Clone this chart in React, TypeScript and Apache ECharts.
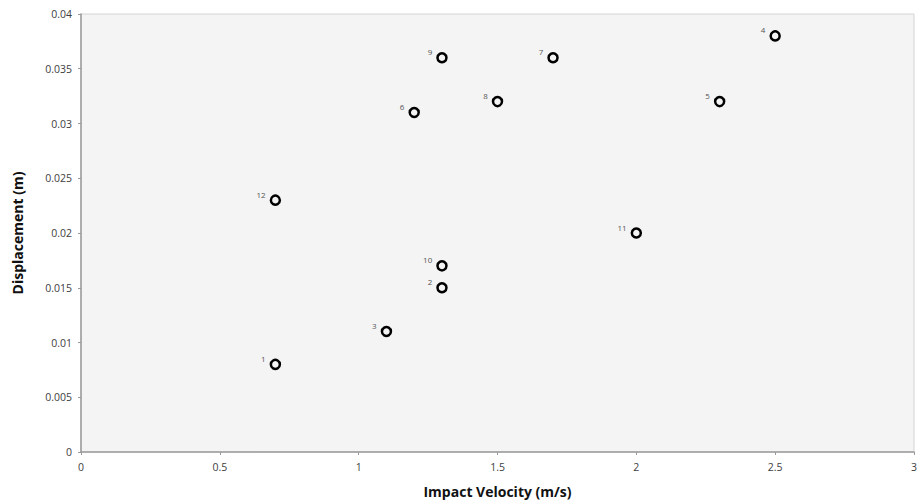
import React, { useEffect, useRef } from "react";
import * as echarts from "echarts";

const pointIds = ["1", "2", "3", "4", "5", "6", "7", "8", "9", "10", "11", "12"];
const velocities = [0.7, 1.3, 1.1, 2.5, 2.3, 1.2, 1.7, 1.5, 1.3, 1.3, 2.0, 0.7];
const displacements = [0.008, 0.015, 0.011, 0.038, 0.032, 0.031, 0.036, 0.032, 0.036, 0.017, 0.02, 0.023];
const xTicks = [0, 0.5, 1, 1.5, 2, 2.5, 3];
const yTicks = [0, 0.005, 0.01, 0.015, 0.02, 0.025, 0.03, 0.035, 0.04];

export default function App() {
  const ref = useRef<HTMLDivElement>(null);
  useEffect(() => {
    if (!ref.current) return;
    const chart = echarts.init(ref.current, undefined, { renderer: "svg" });
    const data = pointIds.map((id, i) => ({ name: id, value: [velocities[i], displacements[i]] }));
    chart.setOption({
      animation: false,
      backgroundColor: "#ffffff",
      grid: {
        left: 81,
        top: 14,
        right: 6,
        bottom: 52,
        containLabel: false,
        outerBoundsMode: "none",
        show: true,
        backgroundColor: "#f4f4f4",
        borderColor: "#d4d4d4",
        borderWidth: 1,
      },
      xAxis: {
        type: "value",
        min: xTicks[0],
        max: xTicks[xTicks.length - 1],
        interval: 0.5,
        name: "Impact Velocity (m/s)",
        nameLocation: "middle",
        nameGap: 32,
        nameTextStyle: { fontFamily: "'Open Sans', sans-serif", fontWeight: "bold", fontSize: 14, color: "#111" },
        axisLine: { show: true, onZero: false, lineStyle: { color: "#9a9a9a", width: 1.5 } },
        axisTick: { show: true, length: 3, lineStyle: { color: "#9a9a9a" } },
        axisLabel: {
          fontFamily: "'Open Sans', sans-serif",
          fontSize: 10.5,
          color: "#404040",
          margin: 9,
          formatter: (v: number) => String(v),
        },
        splitLine: { show: false },
      },
      yAxis: {
        type: "value",
        min: yTicks[0],
        max: yTicks[yTicks.length - 1],
        interval: 0.005,
        name: "Displacement (m)",
        nameLocation: "middle",
        nameGap: 57,
        nameTextStyle: {
          fontFamily: "'Liberation Sans Narrow', 'Open Sans', sans-serif",
          fontWeight: "bold",
          fontSize: 14,
          color: "#111",
        },
        axisLine: { show: true, onZero: false, lineStyle: { color: "#9a9a9a", width: 1.5 } },
        axisTick: { show: true, inside: false, length: 3, lineStyle: { color: "#9a9a9a" } },
        axisLabel: {
          fontFamily: "'Open Sans', sans-serif",
          fontSize: 10.5,
          color: "#404040",
          margin: 9,
          formatter: (v: number) => String(parseFloat(v.toFixed(4))),
        },
        splitLine: { show: false },
      },
      series: [
        {
          type: "scatter",
          data,
          symbol: "circle",
          symbolSize: 9,
          itemStyle: { color: "#f4f4f4", borderColor: "#000", borderWidth: 2.5, opacity: 1 },
          label: {
            show: true,
            position: "left",
            distance: 4,
            offset: [0, -6],
            formatter: (p: any) => p.name,
            fontFamily: "'Open Sans', sans-serif",
            fontSize: 8,
            color: "#555555",
            textBorderWidth: 0,
          },
        },
      ],
    });
    return () => chart.dispose();
  }, []);
  return (
    <div
      ref={ref}
      style={{ position: "fixed", left: 0, top: 0, width: 920, height: 504, background: "#fff" }}
    />
  );
}
